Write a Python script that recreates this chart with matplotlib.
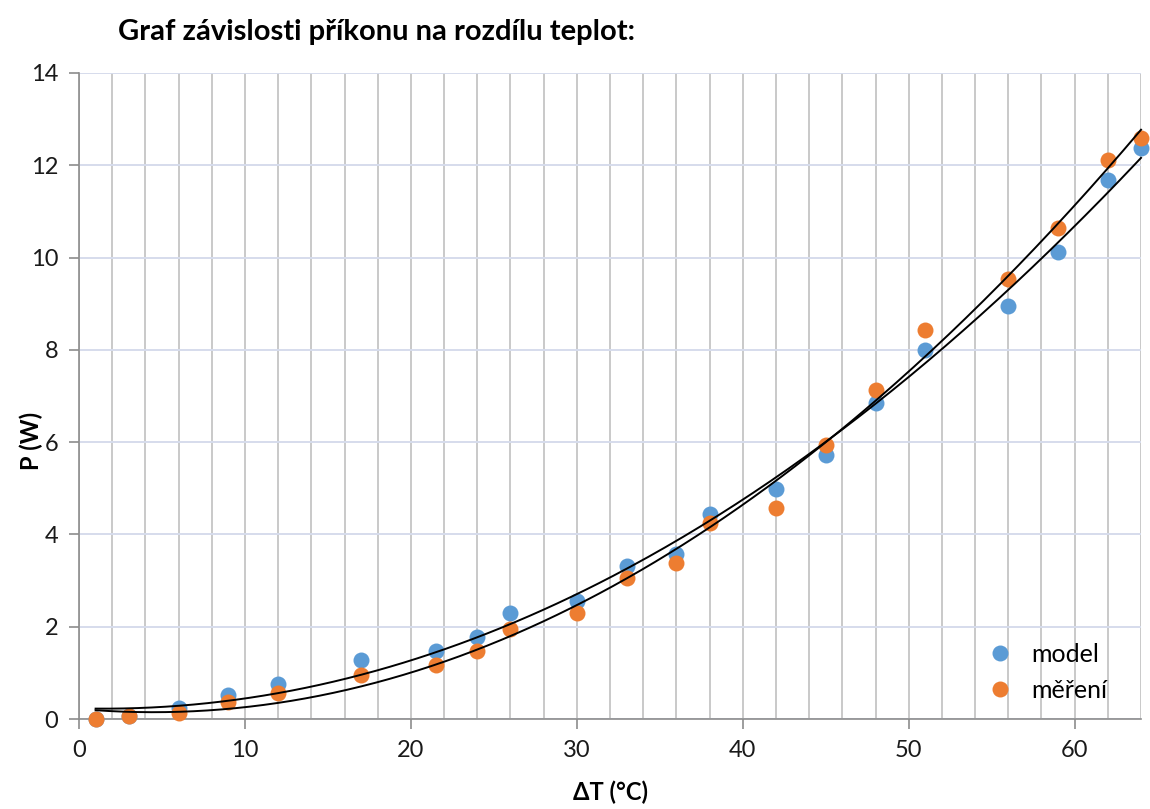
import numpy as np
import matplotlib
matplotlib.use("Agg")
import matplotlib.pyplot as plt
from matplotlib.ticker import MultipleLocator

# Temperature difference (°C) and input power (W)
delta_t = [1, 3, 6, 9, 12, 17, 21.5, 24, 26, 30, 33, 36, 38, 42, 45, 48, 51, 56, 59, 62, 64]
p_model = [0.0, 0.06, 0.25, 0.52, 0.77, 1.29, 1.48, 1.78, 2.30, 2.56, 3.32, 3.58, 4.45,
           4.98, 5.73, 6.85, 8.00, 8.95, 10.12, 11.68, 12.38]
p_mereni = [0.0, 0.06, 0.14, 0.36, 0.56, 0.96, 1.17, 1.48, 1.95, 2.30, 3.05, 3.39, 4.24,
            4.57, 5.93, 7.12, 8.43, 9.53, 10.63, 12.12, 12.60]

x_ticks = [0, 10, 20, 30, 40, 50, 60]
y_ticks = [0, 2, 4, 6, 8, 10, 12, 14]

BLUE = "#5B9BD5"
ORANGE = "#ED7D31"
FONT = ["Lato", "DejaVu Sans"]

plt.rcParams["font.family"] = FONT

fig = plt.figure(figsize=(11.5, 8.09), dpi=100)
ax = fig.add_axes([0.0687, 0.1112, 0.9235, 0.7986])

ax.set_xlim(0, 64)
ax.set_ylim(0, 14)

# grid: grey verticals every 2 °C, pale blue horizontals every 2 W
ax.xaxis.set_major_locator(MultipleLocator(10))
ax.xaxis.set_minor_locator(MultipleLocator(2))
ax.yaxis.set_major_locator(MultipleLocator(2))
ax.grid(which="minor", axis="x", color="#c9c9c9", linewidth=1.4, zorder=0)
ax.grid(which="major", axis="x", color="#c9c9c9", linewidth=1.4, zorder=0)
ax.grid(which="major", axis="y", color="#d6dcec", linewidth=1.4, zorder=0)
ax.set_axisbelow(True)

for side in ("top", "right"):
    ax.spines[side].set_visible(False)
for side in ("left", "bottom"):
    ax.spines[side].set_color("#8c8c8c")
    ax.spines[side].set_linewidth(1.2)

ax.tick_params(axis="both", which="major", direction="out", length=7, width=1.2,
               color="#8c8c8c", labelsize=17, labelcolor="#1a1a1a", pad=8)
ax.tick_params(axis="x", which="minor", length=0)
ax.set_xticks(x_ticks)
ax.set_yticks(y_ticks)

ax.plot(delta_t, p_model, "o", color=BLUE, markersize=11.5, markeredgewidth=0,
        label="model", zorder=3, clip_on=False)
ax.plot(delta_t, p_mereni, "o", color=ORANGE, markersize=11.5, markeredgewidth=0,
        label="měření", zorder=4, clip_on=False)

# second-order polynomial trendlines for both series
xs = np.linspace(min(delta_t), max(delta_t), 300)
for series in (p_model, p_mereni):
    coef = np.polyfit(delta_t, series, 2)
    ax.plot(xs, np.polyval(coef, xs), color="black", linewidth=1.4, zorder=5,
            clip_on=False)

leg = ax.legend(loc="lower right", bbox_to_anchor=(0.985, 0.0), frameon=False,
                fontsize=18, handletextpad=0.45, labelspacing=0.5, borderaxespad=0.3,
                handlelength=1.6)

ax.set_xlabel("ΔT (°C)", fontsize=17, fontweight="bold", labelpad=14)
ax.set_ylabel("P (W)", fontsize=17, fontweight="bold")
ax.yaxis.set_label_coords(-0.034, 0.43)

fig.text(0.1026, 0.961, "Graf závislosti příkonu na rozdílu teplot:", fontsize=21,
         fontweight="bold", ha="left", va="center", color="black")

fig.savefig("out.png", dpi=100, facecolor="white")
